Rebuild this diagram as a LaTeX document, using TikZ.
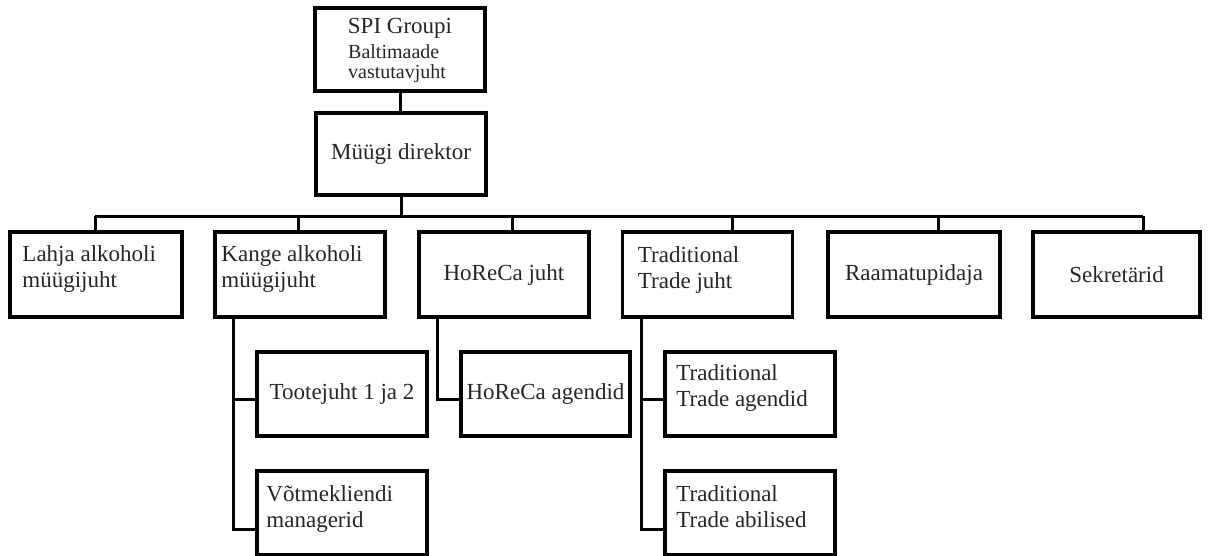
\documentclass[tikz,border=0pt]{standalone}
\usepackage{fontspec}
\setmainfont{Liberation Serif}
\usetikzlibrary{positioning}
\tikzset{
  box/.style={draw, line width=3.5pt, minimum width=170pt, minimum height=85pt, inner sep=0pt,
    font=\fontsize{23}{26}\selectfont, text=black!85},
  txt/.style={inner sep=0pt, align=left, font=\fontsize{23}{26}\selectfont, text=black!85},
  link/.style={line width=3pt},
}
\begin{document}
\begin{tikzpicture}[x=1pt, y=-1pt]
  \useasboundingbox (0,0) rectangle (1211,555);

  % Top: SPI Groupi
  \node[box, minimum height=83pt] (spi) at (400,49.5) {};
  \node[txt, anchor=base] (spi-t) at (400,33) {SPI Groupi};
  \node[txt, anchor=north west, font=\fontsize{20}{20.5}\selectfont] (spi-s) at (348,44) {Baltimaade\\vastutavjuht};

  % Sales director
  \node[box, minimum height=82pt] (dir) at (401,154) {Müügi direktor};

  % Managers row
  \node[box, minimum width=172pt] (lahja) at (96,274.5) {};
  \node[txt, anchor=north west] (lahja-t) at ([shift={(14,15)}]lahja.north west) {Lahja alkoholi\\müügijuht};
  \node[box] (kange) at (300,274.5) {};
  \node[txt, anchor=north west] (kange-t) at ([shift={(8,15)}]kange.north west) {Kange alkoholi\\müügijuht};
  \node[box] (horeca) at (504,274.5) {HoReCa juht};
  \node[box] (trad) at (707.5,274.5) {};
  \node[txt, anchor=north west] (trad-t) at ([shift={(17,16)}]trad.north west) {Traditional\\Trade juht};
  \node[box, minimum width=172pt] (raamat) at (914,274.5) {Raamatupidaja};
  \node[box, minimum width=167pt] (sekr) at (1116.5,274.5) {Sekretärid};

  % Sub units
  \node[box, minimum height=84pt] (toote) at (342,394) {Tootejuht 1 ja 2};
  \node[box, minimum height=84pt] (votme) at (342,513) {};
  \node[txt, anchor=north west] (votme-t) at ([shift={(11,16)}]votme.north west) {Võtmekliendi\\managerid};
  \node[box, minimum width=169pt, minimum height=84pt] (hagent) at (545.5,394) {HoReCa agendid};
  \node[box, minimum height=84pt] (tagent) at (750,394) {};
  \node[txt, anchor=north west] (tagent-t) at ([shift={(13,14)}]tagent.north west) {Traditional\\Trade agendid};
  \node[box, minimum height=84pt] (tabil) at (750,513) {};
  \node[txt, anchor=north west] (tabil-t) at ([shift={(13,16)}]tabil.north west) {Traditional\\Trade abilised};

  % Bus and drops
  \coordinate (b1) at (95,216);
  \coordinate (b2) at (298,216);
  \coordinate (b3) at (512,216);
  \coordinate (b4) at (732,216);
  \coordinate (b5) at (938,216);
  \coordinate (b6) at (1143,216);
  \draw[link] (spi.south) -- (spi.south |- dir.north);
  \draw[link] (dir.south) -- (dir.south |- b1);
  \draw[link] (b1) -- (b6);
  \draw[link] (b1) -- (b1 |- lahja.north);
  \draw[link] (b2) -- (b2 |- kange.north);
  \draw[link] (b3) -- (b3 |- horeca.north);
  \draw[link] (b4) -- (b4 |- trad.north);
  \draw[link] (b5) -- (b5 |- raamat.north);
  \draw[link] (b6) -- (b6 |- sekr.north);

  % Links to sub units
  \coordinate (kange-d) at (233,317);
  \coordinate (horeca-d) at (437,317);
  \coordinate (trad-d) at (641,317);
  \draw[link] (kange-d) |- ([yshift=-5pt]toote.west);
  \draw[link] (kange-d) |- ([yshift=-16pt]votme.west);
  \draw[link] (horeca-d) |- ([yshift=-5pt]hagent.west);
  \draw[link] (trad-d) |- ([yshift=-5pt]tagent.west);
  \draw[link] (trad-d) |- ([yshift=-16pt]tabil.west);
\end{tikzpicture}
\end{document}
